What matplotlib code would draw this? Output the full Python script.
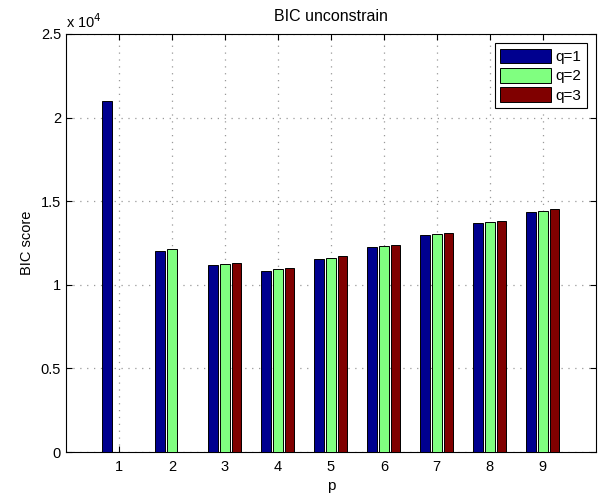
import matplotlib
matplotlib.use("Agg")
import matplotlib.pyplot as plt
import numpy as np
from matplotlib.ticker import FuncFormatter

plt.rcParams["font.family"] = ["Liberation Sans", "DejaVu Sans"]

P_VALUES = [1, 2, 3, 4, 5, 6, 7, 8, 9]
SERIES_LABELS = ["q=1", "q=2", "q=3"]
BIC_Q1 = [21000, 12040, 11165, 10845, 11543, 12260, 12960, 13677, 14372]
BIC_Q2 = [0, 12120, 11244, 10925, 11622, 12340, 13038, 13737, 14432]
BIC_Q3 = [0, 0, 11322, 10985, 11702, 12400, 13098, 13797, 14513]
COLORS = ["#00008F", "#80FF80", "#800000"]


def main():
    fig = plt.figure(figsize=(6.02, 4.97), dpi=100)
    ax = fig.add_axes([0.1096, 0.0905, 0.880, 0.8411])

    x = np.array(P_VALUES, dtype=float)
    offsets = [-0.222, 0.0, 0.222]
    width = 0.18
    for series, off, color, label in zip([BIC_Q1, BIC_Q2, BIC_Q3], offsets, COLORS, SERIES_LABELS):
        ax.bar(x + off, series, width=width, color=color, edgecolor="black",
               linewidth=0.7, label=label, zorder=3)

    ax.set_xlim(0, 10)
    ax.set_ylim(0, 25000)
    ax.set_xticks(P_VALUES)
    ax.set_yticks([0, 5000, 10000, 15000, 20000, 25000])
    ax.yaxis.set_major_formatter(FuncFormatter(lambda v, pos: f"{v / 1e4:g}"))
    ax.tick_params(direction="in", top=True, right=True, labelsize=10.5, length=4)
    ax.tick_params(axis="x", pad=6)
    ax.grid(True, linestyle=(0, (1, 4.5)), color="#999999", linewidth=0.9, zorder=0)
    for spine in ax.spines.values():
        spine.set_linewidth(0.8)

    ax.text(0.0, 1.008, "x 10$^4$", transform=ax.transAxes, fontsize=10.5,
            ha="left", va="bottom")
    ax.set_title("BIC unconstrain", fontsize=11.5, pad=9)
    ax.set_xlabel("p", fontsize=11, labelpad=3)
    ax.set_ylabel("BIC score", fontsize=10.5, labelpad=5)

    leg = ax.legend(loc="upper right", fontsize=11, fancybox=False, framealpha=1,
                    edgecolor="black", handlelength=3.3, handleheight=1.1,
                    borderaxespad=0.6, handletextpad=0.3, labelspacing=0.25,
                    borderpad=0.35)
    leg.get_frame().set_linewidth(0.8)

    fig.savefig("out.png", dpi=100)
    plt.close(fig)


if __name__ == "__main__":
    main()
